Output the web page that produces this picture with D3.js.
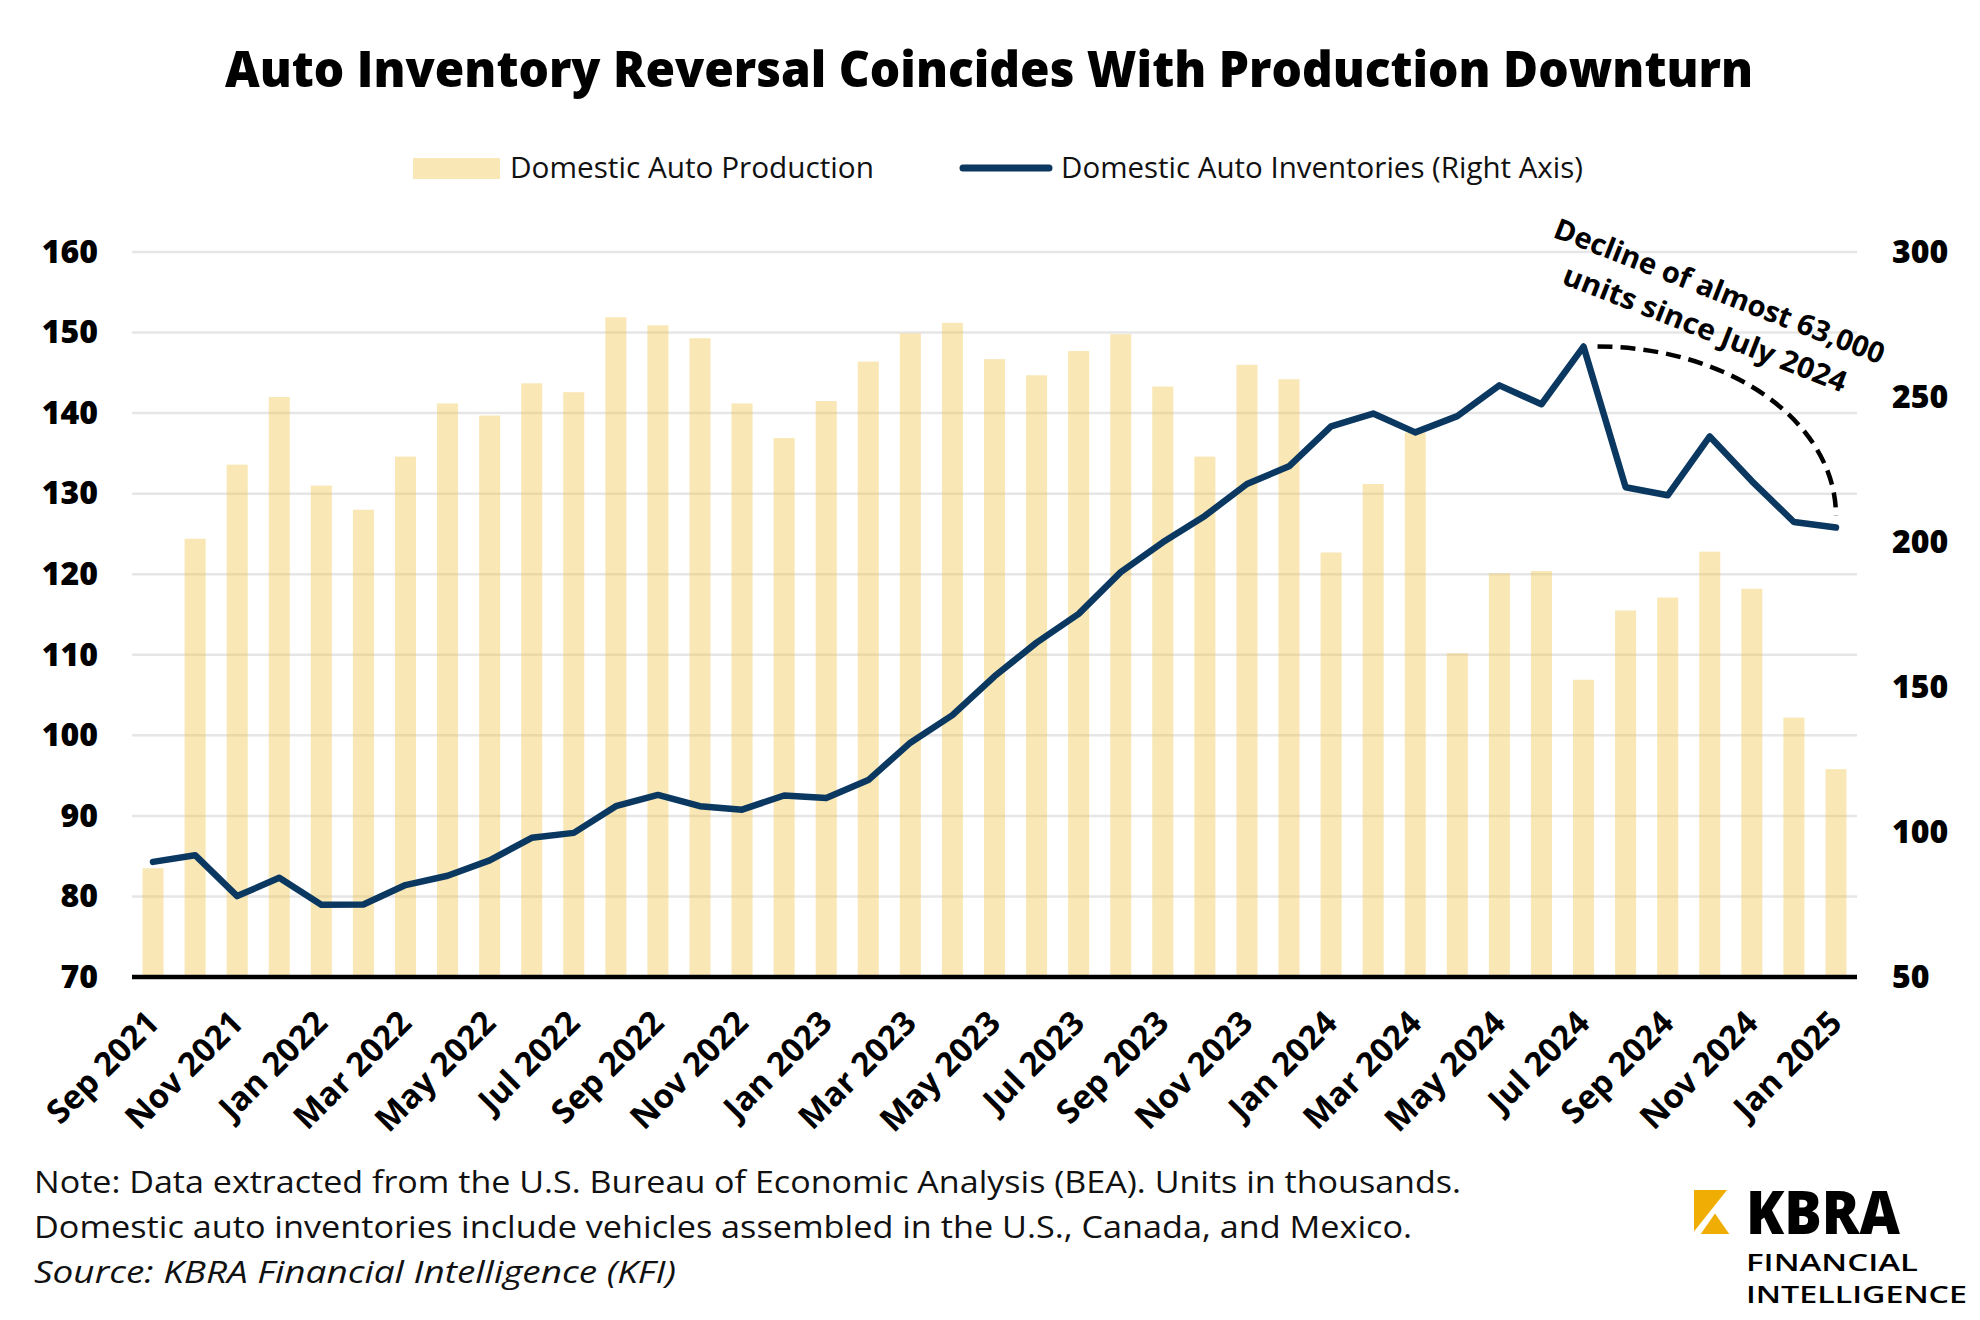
<!DOCTYPE html>
<html>
<head>
<meta charset="utf-8">
<script src="https://cdn.jsdelivr.net/npm/d3@7"></script>
<style>
	html, body { margin: 0; padding: 0; background: #fff; }
	svg { display: block; font-family: "Open Sans", "Noto Sans", sans-serif; }
</style>
</head>
<body>
<svg id="chart" width="1980" height="1320"></svg>
<script>
const months = [
	"Sep 2021", "Oct 2021", "Nov 2021", "Dec 2021",
	"Jan 2022", "Feb 2022", "Mar 2022", "Apr 2022", "May 2022", "Jun 2022",
	"Jul 2022", "Aug 2022", "Sep 2022", "Oct 2022", "Nov 2022", "Dec 2022",
	"Jan 2023", "Feb 2023", "Mar 2023", "Apr 2023", "May 2023", "Jun 2023",
	"Jul 2023", "Aug 2023", "Sep 2023", "Oct 2023", "Nov 2023", "Dec 2023",
	"Jan 2024", "Feb 2024", "Mar 2024", "Apr 2024", "May 2024", "Jun 2024",
	"Jul 2024", "Aug 2024", "Sep 2024", "Oct 2024", "Nov 2024", "Dec 2024",
	"Jan 2025"
];

// domestic auto production (left axis, thousands)
const production = [
	83.5, 124.4, 133.6, 142.0,
	131.0, 128.0, 134.6, 141.2, 139.7, 143.7,
	142.6, 151.9, 150.9, 149.3, 141.2, 136.9,
	141.5, 146.4, 149.9, 151.2, 146.7, 144.7,
	147.7, 149.8, 143.3, 134.6, 146.0, 144.2,
	122.7, 131.2, 137.6, 110.2, 120.1, 120.4,
	106.9, 115.5, 117.1, 122.8, 118.2, 102.2,
	95.8
];

// domestic auto inventories (right axis, thousands)
const inventories = [
	89.7, 92.0, 77.9, 84.2,
	74.9, 75.0, 81.7, 84.9, 90.2, 98.0,
	99.7, 108.9, 112.8, 108.9, 107.7, 112.6,
	111.7, 117.9, 130.8, 140.3, 153.7, 165.3,
	175.2, 189.6, 199.9, 209.0, 220.0, 226.1,
	239.9, 244.3, 237.8, 243.4, 254.0, 247.5,
	267.4, 218.9, 216.1, 236.4, 221.0, 206.9,
	205.0
];

const leftTicks = [70, 80, 90, 100, 110, 120, 130, 140, 150, 160];
const rightTicks = [50, 100, 150, 200, 250, 300];
const xLabels = months.filter((m, i) => i % 2 === 0);

const titleText = "Auto Inventory Reversal Coincides With Production Downturn";
const legendLabels = ["Domestic Auto Production", "Domestic Auto Inventories (Right Axis)"];
const noteLines = [
	"Note: Data extracted from the U.S. Bureau of Economic Analysis (BEA). Units in thousands.",
	"Domestic auto inventories include vehicles assembled in the U.S., Canada, and Mexico."
];
const sourceText = "Source: KBRA Financial Intelligence (KFI)";
const annotationLines = ["Decline of almost 63,000", "units since July 2024"];

const barColor = "#efc247",
			lineColor = "#0b3861",
			logoGold = "#f0ae04";

const plot = { left: 132, right: 1857, top: 252, bottom: 977 };

const svg = d3.select("#chart");

const x = d3.scaleBand()
	.domain(months)
	.range([plot.left, plot.right])
	.paddingInner(0.5)
	.paddingOuter(0.25);
const cx = m => x(m) + x.bandwidth() / 2;

const yL = d3.scaleLinear().domain([70, 160]).range([plot.bottom, plot.top]);
const yR = d3.scaleLinear().domain([50, 300]).range([plot.bottom, plot.top]);

// title
svg.append("text")
	.attr("x", 989).attr("y", 87)
	.attr("text-anchor", "middle")
	.attr("font-size", 50).attr("font-weight", 800)
	.attr("textLength", 1528).attr("lengthAdjust", "spacingAndGlyphs")
	.text(titleText);

// legend
const legend = svg.append("g").attr("font-size", 29).attr("fill", "#111");
legend.append("rect")
	.attr("x", 413).attr("y", 158).attr("width", 87).attr("height", 21)
	.attr("fill", barColor).attr("fill-opacity", 0.4);
legend.append("text")
	.attr("x", 510).attr("y", 178)
	.attr("textLength", 364).attr("lengthAdjust", "spacingAndGlyphs")
	.text(legendLabels[0]);
legend.append("line")
	.attr("x1", 963).attr("x2", 1049).attr("y1", 168).attr("y2", 168)
	.attr("stroke", lineColor).attr("stroke-width", 7).attr("stroke-linecap", "round");
legend.append("text")
	.attr("x", 1061).attr("y", 178)
	.attr("textLength", 522).attr("lengthAdjust", "spacingAndGlyphs")
	.text(legendLabels[1]);

// gridlines
svg.append("g").selectAll("line")
	.data(leftTicks.slice(1))
	.join("line")
	.attr("x1", plot.left).attr("x2", plot.right)
	.attr("y1", d => yL(d)).attr("y2", d => yL(d))
	.attr("stroke", "#e6e6e6").attr("stroke-width", 2.5);

// production bars
svg.append("g").selectAll("rect")
	.data(production)
	.join("rect")
	.attr("x", (d, i) => x(months[i]))
	.attr("width", x.bandwidth())
	.attr("y", d => yL(d))
	.attr("height", d => yL(70) - yL(d))
	.attr("fill", barColor)
	.attr("fill-opacity", 0.4);

// base axis line
svg.append("line")
	.attr("x1", plot.left).attr("x2", plot.right)
	.attr("y1", plot.bottom).attr("y2", plot.bottom)
	.attr("stroke", "#000").attr("stroke-width", 4.5);

// inventories line
const line = d3.line()
	.x((d, i) => cx(months[i]))
	.y(d => yR(d));
svg.append("path")
	.datum(inventories)
	.attr("d", line)
	.attr("fill", "none")
	.attr("stroke", lineColor)
	.attr("stroke-width", 6.5)
	.attr("stroke-linejoin", "round")
	.attr("stroke-linecap", "round");

// axes
const axisLeft = svg.append("g")
	.attr("transform", `translate(${plot.left},0)`)
	.call(d3.axisLeft(yL).tickValues(leftTicks).tickSize(0).tickPadding(34));
const axisRight = svg.append("g")
	.attr("transform", `translate(${plot.right},0)`)
	.call(d3.axisRight(yR).tickValues(rightTicks).tickSize(0).tickPadding(35));
[axisLeft, axisRight].forEach(a => {
	a.select(".domain").remove();
	a.selectAll("text")
		.attr("font-family", "\"Open Sans\", sans-serif")
		.attr("font-size", 32)
		.attr("font-weight", 800)
		.attr("fill", "#000");
});

// month labels
svg.append("g").selectAll("text")
	.data(xLabels)
	.join("text")
	.attr("transform", d => `translate(${cx(d) + 8},${plot.bottom + 48}) rotate(-45)`)
	.attr("text-anchor", "end")
	.attr("font-size", 33)
	.attr("font-weight", 700)
	.text(d => d);

// annotation: dashed arc from the July 2024 peak down to the last point
const iPeak = months.indexOf("Jul 2024"),
			iLast = months.length - 1,
			p0 = [cx(months[iPeak]) + 14, yR(inventories[iPeak])],
			p1 = [cx(months[iLast]), yR(inventories[iLast]) - 12];
svg.append("path")
	.attr("d", `M${p0[0]},${p0[1]} A${p1[0] - p0[0]},${p1[1] - p0[1]} 0 0 1 ${p1[0]},${p1[1]}`)
	.attr("fill", "none")
	.attr("stroke", "#000")
	.attr("stroke-width", 4.5)
	.attr("stroke-dasharray", "15 8");

const note = svg.append("g")
	.attr("transform", "translate(1720,290) rotate(21.3)")
	.attr("font-size", 29)
	.attr("font-weight", 700);
note.selectAll("text")
	.data(annotationLines)
	.join("text")
	.attr("x", 0)
	.attr("y", (d, i) => i * 40)
	.attr("text-anchor", "middle")
	.attr("dominant-baseline", "central")
	.attr("textLength", (d, i) => i === 0 ? 352 : 302)
	.attr("lengthAdjust", "spacingAndGlyphs")
	.text(d => d);

// footer notes
const footer = svg.append("g").attr("font-size", 31).attr("fill", "#111");
footer.selectAll("text.note")
	.data(noteLines)
	.join("text")
	.attr("class", "note")
	.attr("x", 34)
	.attr("y", (d, i) => 1193 + i * 45)
	.attr("textLength", (d, i) => i === 0 ? 1427 : 1378)
	.attr("lengthAdjust", "spacingAndGlyphs")
	.text(d => d);
footer.append("text")
	.attr("x", 34).attr("y", 1283)
	.attr("font-style", "italic")
	.attr("textLength", 642).attr("lengthAdjust", "spacingAndGlyphs")
	.text(sourceText);

// KBRA logo
const logo = svg.append("g").attr("transform", "translate(1694,1190)");
logo.append("path")
	.attr("d", "M0,0 L33,0 L0,41.5 Z")
	.attr("fill", logoGold);
logo.append("path")
	.attr("d", "M21,23.5 L35.3,44 L6.7,44 Z")
	.attr("fill", logoGold);
logo.append("text")
	.attr("x", 52).attr("y", 44)
	.attr("font-size", 60).attr("font-weight", 800)
	.attr("textLength", 154).attr("lengthAdjust", "spacingAndGlyphs")
	.text("KBRA");
logo.append("text")
	.attr("x", 52).attr("y", 80.7)
	.attr("font-size", 24).attr("font-weight", 600)
	.attr("textLength", 172).attr("lengthAdjust", "spacingAndGlyphs")
	.text("FINANCIAL");
logo.append("text")
	.attr("x", 52).attr("y", 113.3)
	.attr("font-size", 24).attr("font-weight", 600)
	.attr("textLength", 221).attr("lengthAdjust", "spacingAndGlyphs")
	.text("INTELLIGENCE");
</script>
</body>
</html>
